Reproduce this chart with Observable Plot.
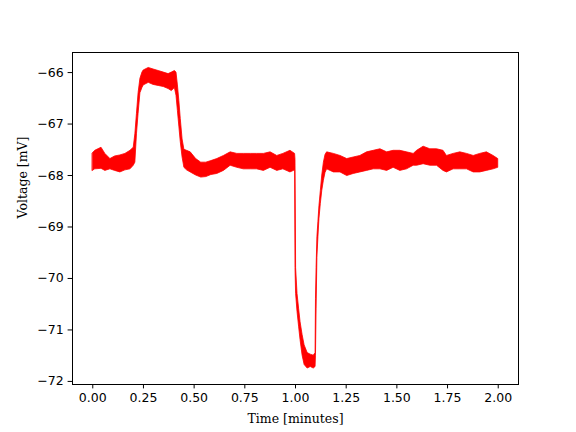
<!DOCTYPE html>
<html>
<head>
<meta charset="utf-8">
<script src="https://cdn.jsdelivr.net/npm/d3@7"></script>
<script src="https://cdn.jsdelivr.net/npm/@observablehq/plot@0.6"></script>
<style>
  html, body { margin: 0; padding: 0; background: white; }
</style>
</head>
<body>
<div id="chart"></div>
<script>
// Time in minutes
const times = [0.000, 0.012, 0.043, 0.062, 0.087, 0.110, 0.136, 0.161, 0.186, 0.202,
  0.210, 0.218, 0.226, 0.235, 0.245, 0.251, 0.276, 0.300, 0.325, 0.350, 0.374, 0.390, 0.405,
  0.413, 0.420, 0.427, 0.434, 0.443, 0.452, 0.465, 0.483, 0.510, 0.535, 0.560, 0.585, 0.614,
  0.647, 0.680, 0.713, 0.745, 0.780, 0.810, 0.844, 0.877, 0.910, 0.940, 0.975, 0.998,
  1.000, 1.003, 1.010, 1.018, 1.025, 1.035, 1.045, 1.060, 1.075, 1.090, 1.099,
  1.101, 1.104, 1.108, 1.113, 1.118, 1.125, 1.132, 1.140, 1.148, 1.156, 1.189, 1.222,
  1.255, 1.287, 1.320, 1.353, 1.386, 1.419, 1.452, 1.484, 1.517, 1.550, 1.583, 1.600,
  1.632, 1.665, 1.698, 1.730, 1.747, 1.780, 1.813, 1.846, 1.879, 1.911, 1.944, 1.977, 2.000];
// Lower edge of the noisy voltage trace (mV)
const lower = [-67.91, -67.88, -67.87, -67.91, -67.88, -67.91, -67.94, -67.90, -67.88, -67.81,
  -67.75, -67.20, -66.80, -66.40, -66.30, -66.25, -66.20, -66.24, -66.26, -66.28, -66.32, -66.36, -66.30,
  -66.45, -66.75, -67.05, -67.35, -67.65, -67.85, -67.90, -67.94, -68.00, -68.04, -68.03, -67.99, -67.97,
  -67.91, -67.81, -67.85, -67.88, -67.88, -67.88, -67.91, -67.85, -67.91, -67.88, -67.94, -67.90,
  -69.80, -70.30, -70.65, -70.95, -71.20, -71.50, -71.68, -71.75, -71.72, -71.75, -71.72,
  -71.50, -70.60, -69.60, -69.20, -68.85, -68.55, -68.30, -68.10, -67.95, -67.88, -67.94, -67.94,
  -68.01, -67.97, -67.94, -67.91, -67.88, -67.88, -67.91, -67.85, -67.91, -67.88, -67.81, -67.81,
  -67.78, -67.81, -67.81, -67.91, -67.94, -67.88, -67.88, -67.88, -67.94, -67.94, -67.91, -67.88, -67.85];
// Upper edge of the noisy voltage trace (mV)
const upper = [-67.57, -67.52, -67.46, -67.58, -67.68, -67.63, -67.61, -67.58, -67.52, -67.46,
  -67.20, -66.80, -66.40, -66.12, -66.00, -65.96, -65.91, -65.94, -65.97, -66.00, -66.03, -66.00, -65.97,
  -66.00, -66.25, -66.55, -66.90, -67.30, -67.50, -67.52, -67.55, -67.68, -67.75, -67.75, -67.72, -67.68,
  -67.62, -67.55, -67.58, -67.58, -67.58, -67.58, -67.58, -67.55, -67.62, -67.58, -67.52, -67.58,
  -67.70, -69.80, -70.30, -70.60, -70.85, -71.10, -71.30, -71.45, -71.48, -71.50, -71.45,
  -70.40, -69.80, -69.20, -68.90, -68.60, -68.30, -68.00, -67.75, -67.60, -67.55, -67.58, -67.62,
  -67.68, -67.65, -67.62, -67.55, -67.52, -67.49, -67.55, -67.52, -67.52, -67.55, -67.58, -67.52,
  -67.44, -67.49, -67.49, -67.52, -67.62, -67.58, -67.55, -67.58, -67.62, -67.58, -67.55, -67.62, -67.68];

const xTicks = [0, 0.25, 0.5, 0.75, 1.0, 1.25, 1.5, 1.75, 2.0];
const yTicks = [-72, -71, -70, -69, -68, -67, -66];
const xLabel = "Time [minutes]";
const yLabel = "Voltage [mV]";

const data = times.map((t, i) => ({t, lo: lower[i], hi: upper[i]}));

const chart = Plot.plot({
  width: 576,
  height: 432,
  marginLeft: 72,
  marginRight: 58,
  marginTop: 52,
  marginBottom: 48,
  x: {domain: [-0.1, 2.1]},
  y: {domain: [-72.06, -65.61]},
  style: {fontFamily: "DejaVu Sans", fontSize: "12.5px", background: "white", color: "black", overflow: "visible"},
  marks: [
    Plot.areaY(data, {x: "t", y1: "lo", y2: "hi", fill: "#ff0000", stroke: "#ff0000", strokeWidth: 0.8}),
    Plot.frame({stroke: "black", strokeWidth: 1}),
    Plot.axisX({ticks: xTicks, tickFormat: d3.format(".2f"), tickSize: 4.4, tickPadding: 4.4, label: null, fontSize: 12.5}),
    Plot.axisY({ticks: yTicks, tickFormat: d3.format("d"), tickSize: 4.4, tickPadding: 4.4, label: null, fontSize: 12.5}),
    Plot.text([xLabel], {text: d => d, frameAnchor: "bottom", lineAnchor: "middle", dy: 34, fontFamily: "DejaVu Serif", fontSize: 12.5}),
    Plot.text([yLabel], {text: d => d, frameAnchor: "left", lineAnchor: "middle", dx: -50, rotate: -90, fontFamily: "DejaVu Serif", fontSize: 12.5})
  ]
});

document.getElementById("chart").appendChild(chart);
</script>
</body>
</html>
